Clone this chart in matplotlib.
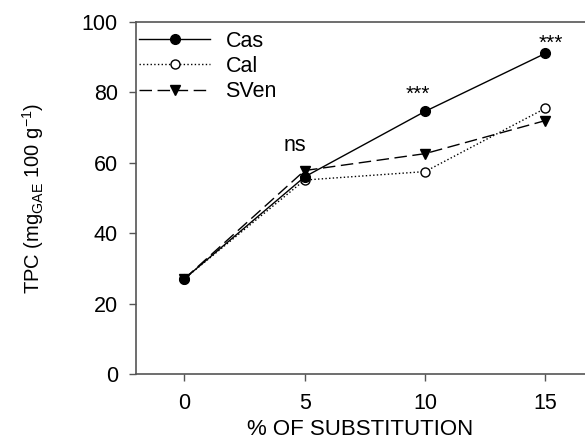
import numpy as np
import matplotlib
matplotlib.use("Agg")
import matplotlib.pyplot as plt

plt.rcParams['font.family'] = ['Liberation Sans', 'DejaVu Sans']

# Data
substitution = [0, 5, 10, 15]
cas = [27.0, 56.0, 74.6, 91.1]
cal = [27.0, 55.1, 57.5, 75.5]
sven = [27.0, 57.8, 62.6, 72.0]

sig_labels = ['ns', '***', '***']
sig_x = [4.6, 9.7, 15.2]
sig_y = [65.0, 79.5, 94.0]

fig = plt.figure(figsize=(5.85, 4.41), dpi=100)
ax = fig.add_axes([136/585, 1 - 374/441, 1 - 136/585, (374 - 22)/441])

ax.plot(substitution, sven, color='black', lw=1.0, dashes=(9, 4), marker='v',
        ms=7, mfc='black', mec='black', label='SVen', zorder=3)
ax.plot(substitution, cal, color='black', lw=1.0, ls=':', marker='o',
        ms=6.5, mfc='white', mec='black', label='Cal', zorder=4)
ax.plot(substitution, cas, color='black', lw=1.0, ls='-', marker='o',
        ms=7, mfc='black', mec='black', label='Cas', zorder=5)

for lab, x, y in zip(sig_labels, sig_x, sig_y):
    fs = 15.5 if lab == 'ns' else 15
    ax.text(x, y, lab, ha='center', va='center', fontsize=fs)

ax.set_xlim(-2, 16.64)
ax.set_ylim(0, 100)
ax.set_xticks([0, 5, 10, 15])
ax.set_yticks([0, 20, 40, 60, 80, 100])
ax.tick_params(labelsize=15.5, direction='out', length=5, width=1, color='#555555')
ax.tick_params(axis='x', pad=9)
ax.tick_params(axis='y', pad=8)
for s in ['left', 'bottom', 'top']:
    ax.spines[s].set_color('#555555')
    ax.spines[s].set_linewidth(1.2)
ax.spines['right'].set_visible(False)

ax.set_xlabel('% OF SUBSTITUTION', fontsize=16, labelpad=3)
ax.set_ylabel('TPC (mg$_{\\mathregular{GAE}}$ 100 g$^{\\mathregular{-1}}$)', fontsize=14.5, labelpad=26)

handles, labels = ax.get_legend_handles_labels()
order = [2, 1, 0]
ax.legend([handles[i] for i in order], [labels[i] for i in order], loc='upper left',
          frameon=False, fontsize=15.5, handlelength=3.3, borderaxespad=0.0,
          labelspacing=0.2, handletextpad=0.7, borderpad=0.2,
          bbox_to_anchor=(-0.002, 0.988))

fig.savefig('out.png', dpi=100)
